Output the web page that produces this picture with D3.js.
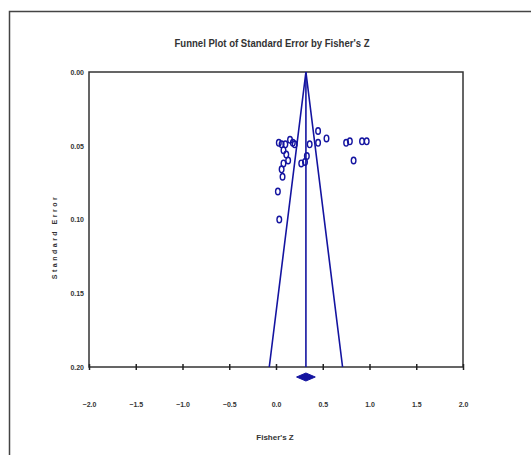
<!DOCTYPE html>
<html>
<head>
<meta charset="utf-8">
<script src="https://cdn.jsdelivr.net/npm/d3@7"></script>
<style>
  body { margin: 0; background: #fff; }
  text { font-family: "Liberation Sans Narrow", "Arial Narrow", "Liberation Sans", Arial, sans-serif; fill: #333; }
</style>
</head>
<body>
<svg width="531" height="455"></svg>
<script>
// study points: Fisher's Z and its standard error
const fisherZ = [0.03, 0.06, 0.10, 0.15, 0.18, 0.20, 0.08, 0.11, 0.13, 0.08, 0.06, 0.07, 0.02, 0.035,
  0.27, 0.31, 0.33, 0.36, 0.45, 0.45, 0.54, 0.75, 0.79, 0.83, 0.92, 0.97];
const stdErr = [0.048, 0.049, 0.049, 0.046, 0.048, 0.049, 0.053, 0.056, 0.060, 0.062, 0.066, 0.071, 0.081, 0.100,
  0.062, 0.061, 0.057, 0.049, 0.040, 0.048, 0.045, 0.048, 0.047, 0.060, 0.047, 0.047];
// pooled estimate and its CI (diamond)
const pooled = 0.32, pooledLo = 0.22, pooledHi = 0.42;
const xTicks = [-2.0, -1.5, -1.0, -0.5, 0.0, 0.5, 1.0, 1.5, 2.0];
const yTicks = [0.00, 0.05, 0.10, 0.15, 0.20];
const maxSE = 0.20;

const svg = d3.select("svg"),
  margin = { top: 72, left: 89 },
  width = 374,
  height = 295;
const blue = "#1414a0";

// outer frame (left and top only visible)
svg.append("path")
  .attr("d", "M9.5,455V11.5H531")
  .attr("fill", "none")
  .attr("stroke", "#444")
  .attr("stroke-width", 1.5);

svg.append("text")
  .attr("x", 272).attr("y", 47)
  .attr("text-anchor", "middle")
  .attr("textLength", 195)
  .attr("lengthAdjust", "spacingAndGlyphs")
  .style("font-size", "11px")
  .style("font-weight", "bold")
  .attr("fill", "#222")
  .text("Funnel Plot of Standard Error by Fisher's Z");

const x = d3.scaleLinear().domain([-2, 2]).range([0, width]);
const y = d3.scaleLinear().domain([0, maxSE]).range([0, height]);

const g = svg.append("g")
  .attr("transform", "translate(" + margin.left + "," + margin.top + ")");

g.append("rect")
  .attr("width", width).attr("height", height)
  .attr("fill", "none")
  .attr("stroke", "#333")
  .attr("stroke-width", 1.5);

// funnel: pooled +/- 1.96*SE
const funnel = [[pooled - 1.96 * maxSE, maxSE], [pooled, 0], [pooled + 1.96 * maxSE, maxSE]];
g.append("path")
  .attr("d", d3.line().x((d) => x(d[0])).y((d) => y(d[1]))(funnel))
  .attr("fill", "none")
  .attr("stroke", blue)
  .attr("stroke-width", 1.6);

g.append("line")
  .attr("x1", x(pooled)).attr("x2", x(pooled))
  .attr("y1", 0).attr("y2", height)
  .attr("stroke", blue)
  .attr("stroke-width", 1.6);

// points
g.selectAll(".pt")
  .data(fisherZ.map((z, i) => [z, stdErr[i]]))
  .enter()
  .append("ellipse")
  .attr("class", "pt")
  .attr("cx", (d) => x(d[0]))
  .attr("cy", (d) => y(d[1]))
  .attr("rx", 2.3).attr("ry", 3.3)
  .attr("fill", "none")
  .attr("stroke", blue)
  .attr("stroke-width", 1.4);

// diamond below the axis
const dy = height + 10;
g.append("path")
  .attr("d", "M" + x(pooledLo) + "," + dy + "L" + x(pooled) + "," + (dy - 4) +
    "L" + x(pooledHi) + "," + dy + "L" + x(pooled) + "," + (dy + 4) + "Z")
  .attr("fill", blue)
  .attr("stroke", blue);

// axes
const xAxis = g.append("g")
  .attr("transform", "translate(0," + height + ")")
  .call(d3.axisBottom(x).tickValues(xTicks).tickFormat(d3.format(".1f")).tickSize(3).tickPadding(32));
xAxis.select(".domain").remove();
xAxis.selectAll(".tick line").attr("y1", -3).attr("stroke", "#222").attr("stroke-width", 1.5);
xAxis.selectAll("text").style("font-size", "7px").style("font-weight", "bold").attr("fill", "#333");

const yAxis = g.append("g")
  .call(d3.axisLeft(y).tickValues(yTicks).tickFormat(d3.format(".2f")).tickSize(0).tickPadding(5));
yAxis.select(".domain").remove();
yAxis.selectAll("text").style("font-size", "7px").style("font-weight", "bold").attr("fill", "#333");

svg.append("text")
  .attr("x", 275).attr("y", 440)
  .attr("text-anchor", "middle")
  .style("font-size", "8px")
  .style("font-weight", "bold")
  .text("Fisher's Z");

svg.append("text")
  .attr("transform", "translate(57,237) rotate(-90)")
  .attr("text-anchor", "middle")
  .style("font-size", "7px")
  .style("font-weight", "bold")
  .style("letter-spacing", "2.5px")
  .attr("fill", "#534")
  .text("Standard Error");
</script>
</body>
</html>
